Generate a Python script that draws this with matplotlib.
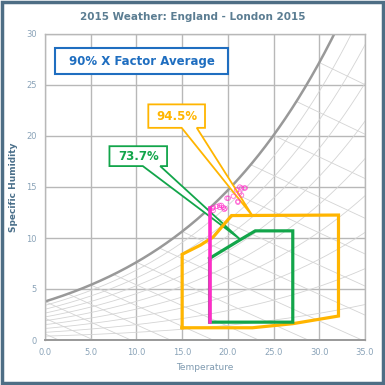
import numpy as np
import matplotlib.pyplot as plt
from matplotlib.patches import Polygon, Rectangle

# =========================
# DATA
# =========================
# orange region (94.5%)
orange_t = [15.0, 22.7, 27.1, 32.1, 32.1, 20.4, 18.4, 17.0, 15.0]
orange_q = [1.2, 1.2, 1.6, 2.35, 12.25, 12.2, 10.1, 9.3, 8.4]

# green region (73.7%)
green_t = [18.0, 21.3, 23.0, 27.1, 27.1, 18.0]
green_q = [8.0, 9.8, 10.7, 10.7, 1.75, 1.75]

# magenta vertical path
magenta_t = [18.05, 18.05]
magenta_q = [1.8, 12.9]

# magenta observations
obs_t = [18.4, 18.8, 19.1, 19.5, 19.6, 19.9, 20.6, 21.1, 21.3, 21.5, 21.8,
         18.4, 19.1, 19.7, 20.05, 20.96, 21.1, 21.5, 21.9, 21.3, 18.3, 19.3]
obs_q = [13.0, 13.1, 13.2, 13.0, 12.8, 13.9, 14.1, 13.5, 14.4, 14.9, 14.9,
         12.7, 13.0, 12.9, 13.9, 14.7, 13.6, 14.2, 14.9, 15.0, 12.9, 13.2]

title = "2015 Weather: England - London 2015"
x_ticks = [0, 5, 10, 15, 20, 25, 30, 35]
y_ticks = [0, 5, 10, 15, 20, 25, 30]

# =========================
# COLOURS
# =========================
c_orange = "#FFB500"
c_green = "#12A54A"
c_magenta = "#FF2CC8"
c_blue = "#1F6EC0"
c_grid = "#B8B8B8"
c_psy = "#D4D4D4"
c_tick = "#8AA3B8"
c_title = "#5B7D92"

plt.rcParams.update({
    "font.family": "DejaVu Sans",
})

fig = plt.figure(figsize=(3.85, 3.85), dpi=100)
ax = fig.add_axes([45 / 385, 45 / 385, 320 / 385, 306 / 385])

# =========================
# PSYCHROMETRIC BACKGROUND
# =========================
P = 1013.25


def w_sat(t):
    e = 6.112 * np.exp(17.67 * t / (t + 243.5))
    return 622.0 * e / (P - e)


t = np.linspace(-12, 36, 400)
ws = w_sat(t)

# relative humidity curves
for rh in np.arange(0.1, 1.0, 0.1):
    e = rh * 6.112 * np.exp(17.67 * t / (t + 243.5))
    ax.plot(t, 622.0 * e / (P - e), color=c_psy, lw=0.6, zorder=1)

# wet bulb lines
for twb in np.arange(-10, 33, 2.5):
    wsw = w_sat(twb) / 1000.0
    tt = np.linspace(twb, 40, 50)
    w = ((2501 - 2.326 * twb) * wsw - 1.006 * (tt - twb)) / (2501 + 1.86 * tt - 4.186 * twb)
    ax.plot(tt, w * 1000, color=c_psy, lw=0.6, zorder=1)

# saturation curve
ax.plot(t, ws, color="#999999", lw=1.8, zorder=2)

# =========================
# CALLOUTS
# =========================
def callout(x0, x1, y0, y1, b0, b1, tip, colour, label, size):
    pts = [(x0, y0), (x1, y0), (x1, y1), (b1, y1), tip, (b0, y1), (x0, y1)]
    ax.add_patch(Polygon(pts, closed=True, facecolor="white", edgecolor=colour,
                         lw=1.3, zorder=4))
    ax.text((x0 + x1) / 2, (y0 + y1) / 2, label, color=colour, fontsize=8.5,
            fontweight="bold", ha="center", va="center", zorder=5)


callout(11.3, 17.5, 23.1, 20.8, 14.95, 16.6, (22.75, 12.1), c_orange, "94.5%", 8.5)
callout(7.05, 13.35, 19.0, 17.05, 10.7, 12.6, (21.3, 9.9), c_green, "73.7%", 8.5)

ax.add_patch(Rectangle((1.1, 26.1), 18.9, 2.5, facecolor="white", edgecolor=c_blue,
                       lw=1.5, zorder=4))
ax.text(10.55, 27.35, "90% X Factor Average", color=c_blue, fontsize=8.5,
        fontweight="bold", ha="center", va="center", zorder=5)

# =========================
# DATA MARKS
# =========================
ax.plot(orange_t + [orange_t[0]], orange_q + [orange_q[0]], color=c_orange, lw=2.3,
        solid_joinstyle="miter", zorder=6)
ax.plot(green_t + [green_t[0]], green_q + [green_q[0]], color=c_green, lw=2.3,
        solid_joinstyle="miter", zorder=6)
ax.plot(magenta_t, magenta_q, color=c_magenta, lw=2.6, zorder=7)
ax.scatter(obs_t, obs_q, s=10, facecolors="none", edgecolors=c_magenta, lw=0.6,
           alpha=0.7, zorder=7)

# =========================
# FORMAT
# =========================
ax.set_xlim(0, 35)
ax.set_ylim(0, 30)
ax.set_xticks(x_ticks)
ax.set_xticklabels([f"{v:.1f}" for v in x_ticks])
ax.set_yticks(y_ticks)
ax.tick_params(length=0, labelsize=6, colors=c_tick, pad=6)
ax.grid(True, color=c_grid, lw=1.0)
ax.set_axisbelow(True)
for s in ax.spines.values():
    s.set_color(c_grid)
    s.set_linewidth(1.0)
ax.spines["bottom"].set_color("#999999")
ax.spines["bottom"].set_linewidth(1.4)

ax.set_xlabel("Temperature", fontsize=6.5, color="#7F9AB0", labelpad=4)
ax.set_ylabel("Specific Humidity", fontsize=6.5, color="#4A6F8A",
              fontweight="bold", labelpad=6)
fig.text(0.5, 0.955, title, ha="center", va="center", fontsize=7.5,
         fontweight="bold", color=c_title)

# outer border
fig.patches.append(Rectangle((0.006, 0.006), 0.988, 0.988, transform=fig.transFigure,
                             fill=False, edgecolor="#4E6E85", lw=2.5))

fig.savefig("out.png", dpi=100)
